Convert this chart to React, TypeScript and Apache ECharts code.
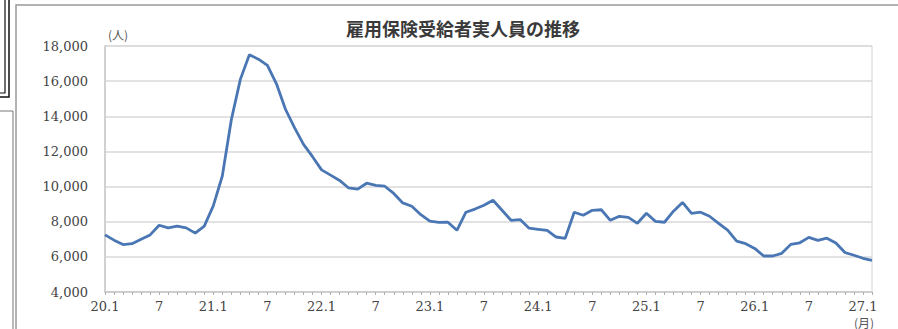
import React, { useEffect, useRef } from "react";
import * as echarts from "echarts";

const title = "雇用保険受給者実人員の推移";
const years = [20, 21, 22, 23, 24, 25, 26, 27];
const lastYearMonths = 2;
const recipients = [
  7250, 6950, 6700, 6750, 7000, 7250, 7800, 7650, 7750, 7650, 7350, 7750,
  8900, 10600, 13800, 16100, 17500, 17250, 16900, 15850, 14400, 13350, 12400, 11700,
  10950, 10650, 10350, 9920, 9850, 10190, 10070, 10020, 9610, 9070, 8880, 8400,
  8030, 7960, 7970, 7510, 8540, 8720, 8940, 9220, 8650, 8080, 8120, 7630,
  7570, 7510, 7130, 7050, 8540, 8370, 8650, 8680, 8080, 8310, 8250, 7910,
  8480, 8020, 7970, 8600, 9100, 8480, 8540, 8310, 7910, 7520, 6890, 6750,
  6480, 6050, 6050, 6200, 6710, 6800, 7110, 6940, 7060, 6790, 6250, 6090,
  5920, 5800,
];
const yMin = 4000;
const yMax = 18000;
const yStep = 2000;
const yUnit = "(人)";
const xUnit = "(月)";

const categories: string[] = [];
years.forEach((y, yi) => {
  const n = yi === years.length - 1 ? lastYearMonths : 12;
  for (let m = 1; m <= n; m++) {
    categories.push(m === 1 ? `${y}.1` : `${m}`);
  }
});

export default function App() {
  const ref = useRef<HTMLDivElement>(null);
  useEffect(() => {
    document.body.style.margin = "0";
    const chart = echarts.init(ref.current!, null, { renderer: "svg" });
    const labelFont = "'DejaVu Serif', serif";
    chart.setOption({
      animation: false,
      backgroundColor: "#ffffff",
      title: {
        text: title,
        left: 458,
        top: 14,
        textAlign: "center",
        textStyle: {
          fontFamily: "'Noto Sans CJK JP', sans-serif",
          fontSize: 18,
          fontWeight: "bold",
          color: "#3a3a3a",
        },
      },
      grid: {
        left: 105,
        right: 26,
        top: 46,
        bottom: 37,
        show: true,
        borderColor: "#d4d4d4",
        borderWidth: 1,
      },
      xAxis: {
        type: "category",
        data: categories,
        boundaryGap: false,
        axisLine: { lineStyle: { color: "#c8c8c8", width: 1.5 } },
        axisTick: { show: true, interval: 0, length: 3, lineStyle: { color: "#b0b0b0" } },
        axisLabel: {
          interval: 5,
          color: "#444",
          fontFamily: labelFont,
          fontSize: 13,
          margin: 8,
        },
        splitLine: { show: false },
      },
      yAxis: {
        type: "value",
        min: yMin,
        max: yMax,
        interval: yStep,
        axisLine: { show: true, lineStyle: { color: "#c8c8c8", width: 1.5 } },
        axisTick: { show: false },
        axisLabel: {
          color: "#444",
          fontFamily: labelFont,
          fontSize: 13,
          margin: 17,
          formatter: (v: number) => v.toLocaleString("en-US"),
        },
        splitLine: { lineStyle: { color: "#d9d9d9", width: 1.5 } },
      },
      series: [
        {
          type: "line",
          data: recipients,
          symbol: "none",
          lineStyle: { color: "#4a77b4", width: 2.8 },
        },
      ],
      graphic: [
        {
          type: "rect",
          shape: { x: 16, y: 5, width: 900, height: 340 },
          style: { fill: "none", stroke: "#9a9a9a", lineWidth: 1.5 },
          silent: true,
        },
        {
          type: "rect",
          shape: { x: -5, y: -5, width: 14, height: 102 },
          style: { fill: "none", stroke: "#111", lineWidth: 1.5 },
          silent: true,
        },
        {
          type: "rect",
          shape: { x: -5, y: -5, width: 10, height: 98 },
          style: { fill: "none", stroke: "#111", lineWidth: 1.2 },
          silent: true,
        },
        {
          type: "rect",
          shape: { x: -5, y: 111, width: 18, height: 240 },
          style: { fill: "none", stroke: "#777", lineWidth: 1 },
          silent: true,
        },
        {
          type: "text",
          x: 118,
          y: 34,
          style: {
            text: yUnit,
            fontSize: 12,
            fontFamily: "'Noto Sans CJK JP', sans-serif",
            fill: "#555",
            align: "center",
            verticalAlign: "middle",
          },
        },
        {
          type: "text",
          x: 864,
          y: 322,
          style: {
            text: xUnit,
            fontSize: 12,
            fontFamily: "'Noto Sans CJK JP', sans-serif",
            fill: "#555",
            align: "center",
            verticalAlign: "middle",
          },
        },
      ],
    });
    return () => chart.dispose();
  }, []);
  return (
    <div
      ref={ref}
      style={{ position: "fixed", left: 0, top: 0, width: 898, height: 329 }}
    />
  );
}
